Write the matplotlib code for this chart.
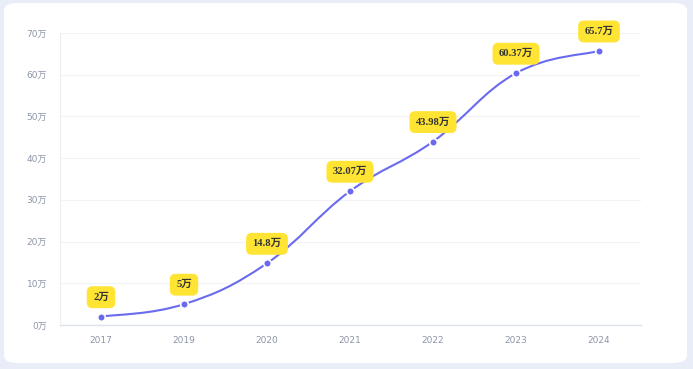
import numpy as np
import matplotlib
matplotlib.use("Agg")
import matplotlib.pyplot as plt
from matplotlib.path import Path
from matplotlib.patches import PathPatch, FancyBboxPatch

# ── データ ──
years = ["2017", "2019", "2020", "2021", "2022", "2023", "2024"]
values = [2, 5, 14.8, 32.07, 43.98, 60.37, 65.7]
labels = ["2万", "5万", "14.8万", "32.07万", "43.98万", "60.37万", "65.7万"]
yticks = [0, 10, 20, 30, 40, 50, 60, 70]

LINE = "#6a6aee"
TICK = "#8c95a8"

plt.rcParams["font.family"] = ["DejaVu Sans", "Noto Sans CJK SC"]

W, H = 693, 369
fig = plt.figure(figsize=(W / 100, H / 100), dpi=100)
fig.patch.set_facecolor("#e9edf8")

# 白いカード
card = FancyBboxPatch((4 / W, 6 / H), 683 / W, 360 / H,
                      boxstyle="round,pad=0,rounding_size=0.02",
                      transform=fig.transFigure, facecolor="white",
                      edgecolor="none", zorder=-10)
fig.patches.append(card)

ax = fig.add_axes([59.5 / W, 44 / H, 581 / W, 292 / H])
ax.set_facecolor("none")

x = np.arange(len(years))
y = np.array(values, dtype=float)

# 平滑曲線 (cubic bezier)
verts = [(x[0], y[0])]
codes = [Path.MOVETO]
s = 0.2
for i in range(len(x) - 1):
    p0 = np.array([x[max(i - 1, 0)], y[max(i - 1, 0)]])
    p1 = np.array([x[i], y[i]])
    p2 = np.array([x[i + 1], y[i + 1]])
    p3 = np.array([x[min(i + 2, len(x) - 1)], y[min(i + 2, len(x) - 1)]])
    c1 = p1 + (p2 - p0) * s
    c2 = p2 - (p3 - p1) * s
    verts += [tuple(c1), tuple(c2), tuple(p2)]
    codes += [Path.CURVE4] * 3
ax.add_patch(PathPatch(Path(verts, codes), facecolor="none", edgecolor=LINE,
                       lw=1.5, zorder=3, capstyle="round"))
ax.plot(x, y, "o", ms=5.5, color=LINE, mec="white", mew=1.2, zorder=4)

for xi, yi, lab in zip(x, y, labels):
    ax.annotate(lab, (xi, yi), xytext=(0, 14), textcoords="offset points",
                ha="center", va="center", fontsize=7.6, fontweight="bold",
                color="#333333", family=["Liberation Serif", "Noto Sans CJK SC"],
                bbox=dict(boxstyle="round,pad=0.6,rounding_size=0.55",
                          fc="#ffe433", ec="none"), zorder=5)

ax.set_xlim(-0.5, len(years) - 0.5)
ax.set_ylim(0, 70)
ax.set_xticks(x)
ax.set_xticklabels(years)
ax.set_yticks(yticks)
ax.set_yticklabels([f"{v}万" for v in yticks])
ax.tick_params(axis="both", length=0, labelsize=6.5, colors=TICK)
ax.tick_params(axis="x", pad=8)
ax.tick_params(axis="y", pad=9)
ax.grid(axis="y", color="#f2f3f6", lw=0.8)
ax.set_axisbelow(True)
for sp in ["top", "right"]:
    ax.spines[sp].set_visible(False)
ax.spines["left"].set_color("#eceef2")
ax.spines["left"].set_linewidth(0.8)
ax.spines["bottom"].set_color("#dde1ea")
ax.spines["bottom"].set_linewidth(1)

fig.savefig("out.png", dpi=100)
